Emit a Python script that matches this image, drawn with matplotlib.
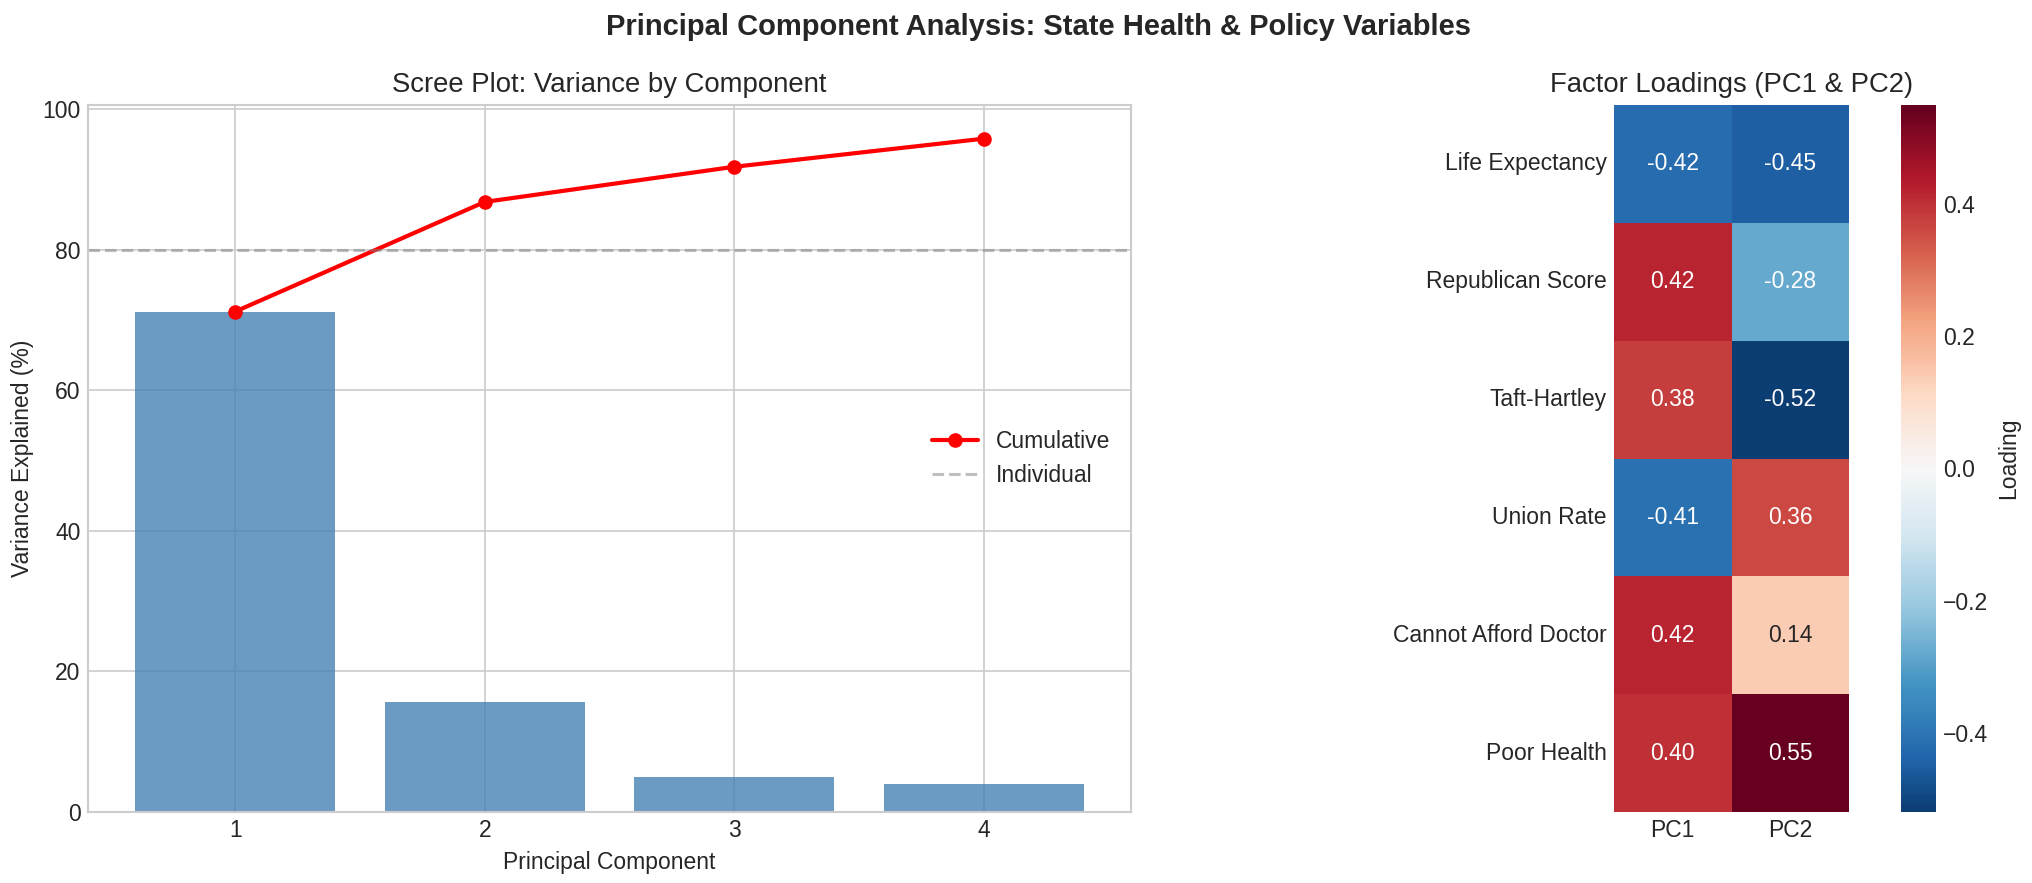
import matplotlib
matplotlib.use('Agg')
import matplotlib.pyplot as plt
import seaborn as sns
import pandas as pd
import numpy as np

# explained variance per component (%)
components = [1, 2, 3, 4]
individual = [71.2, 15.6, 5.0, 4.0]
cumulative = [71.2, 86.8, 91.8, 95.8]

# loadings
variables = ['Life Expectancy', 'Republican Score', 'Taft-Hartley',
             'Union Rate', 'Cannot Afford Doctor', 'Poor Health']
pc1 = [-0.42, 0.42, 0.38, -0.41, 0.42, 0.40]
pc2 = [-0.45, -0.28, -0.52, 0.36, 0.14, 0.55]

plt.style.use('seaborn-v0_8-whitegrid')
plt.rcParams['font.family'] = ['Liberation Sans', 'DejaVu Sans']
plt.rcParams['font.size'] = 11

W, H = 2032, 883
fig = plt.figure(figsize=(W / 150, H / 150), dpi=150)
ax1 = fig.add_axes([88 / W, 71 / H, 1043 / W, 707 / H])
ax2 = fig.add_axes([1614 / W, 71 / H, 235 / W, 707 / H])
cax = fig.add_axes([1901 / W, 71 / H, 35 / W, 707 / H])

# scree plot
ax1.bar(components, individual, color='steelblue', alpha=0.8)
ax1.plot(components, cumulative, 'o-', color='red', linewidth=2, markersize=6, label='Cumulative')
ax1.axhline(80, color='gray', linestyle='--', alpha=0.5, label='Individual')
ax1.set_xticks(components)
ax1.set_xlabel('Principal Component')
ax1.set_ylabel('Variance Explained (%)')
ax1.set_title('Scree Plot: Variance by Component')
ax1.legend(loc='center right')
for s in ax1.spines.values():
    s.set_visible(True)
    s.set_color('#cccccc')

# loadings heatmap
loadings = pd.DataFrame({'PC1': pc1, 'PC2': pc2}, index=variables)
sns.heatmap(loadings, ax=ax2, cbar_ax=cax, annot=True, fmt='.2f', cmap='RdBu_r',
            center=0, cbar_kws={'label': 'Loading'})
ax2.set_title('Factor Loadings (PC1 & PC2)')
ax2.tick_params(axis='y', rotation=0)

fig.suptitle('Principal Component Analysis: State Health & Policy Variables',
             fontsize=14, fontweight='bold', x=0.511, y=0.985)

fig.savefig('out.png', dpi=150)
